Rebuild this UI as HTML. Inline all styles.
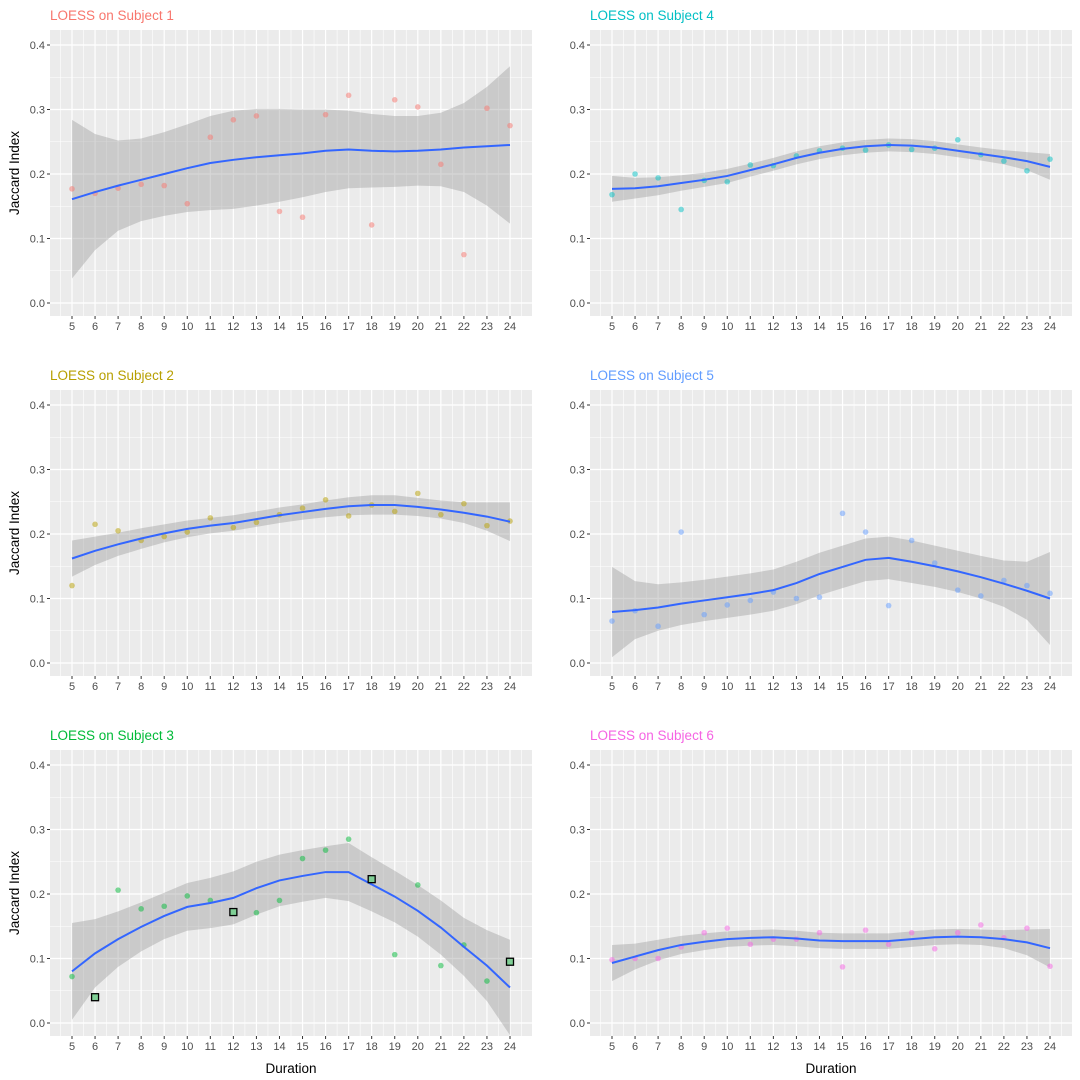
<!DOCTYPE html>
<html><head><meta charset="utf-8"><style>
body{margin:0;background:#fff}
svg{display:block;font-family:"Liberation Sans",Arial,sans-serif}
</style></head><body>
<svg id="c" width="1080" height="1080"></svg>
<script>
const durations=[5,6,7,8,9,10,11,12,13,14,15,16,17,18,19,20,21,22,23,24];
const yTicks=[0,0.1,0.2,0.3,0.4];
const yTickLabels=["0.0","0.1","0.2","0.3","0.4"];
const subjectNames=["LOESS on Subject 1","LOESS on Subject 2","LOESS on Subject 3","LOESS on Subject 4","LOESS on Subject 5","LOESS on Subject 6"];
const points1=[0.177,0.17,0.178,0.184,0.182,0.154,0.257,0.284,0.29,0.142,0.133,0.292,0.322,0.121,0.315,0.304,0.215,0.075,0.302,0.275];
const fit1=[0.161,0.172,0.182,0.191,0.2,0.209,0.217,0.222,0.226,0.229,0.232,0.236,0.238,0.236,0.235,0.236,0.238,0.241,0.243,0.245];
const se1=[0.123,0.09,0.07,0.064,0.065,0.068,0.073,0.076,0.075,0.072,0.068,0.064,0.06,0.057,0.055,0.054,0.057,0.069,0.092,0.122];
const points2=[0.12,0.215,0.205,0.19,0.196,0.203,0.225,0.21,0.218,0.23,0.24,0.253,0.228,0.245,0.235,0.263,0.23,0.247,0.213,0.22];
const fit2=[0.162,0.174,0.184,0.193,0.201,0.208,0.213,0.217,0.223,0.229,0.234,0.239,0.243,0.245,0.245,0.242,0.238,0.233,0.227,0.219];
const se2=[0.028,0.022,0.018,0.016,0.014,0.013,0.012,0.012,0.012,0.012,0.012,0.013,0.014,0.015,0.015,0.014,0.014,0.016,0.022,0.03];
const points3=[0.072,0.04,0.206,0.177,0.181,0.197,0.19,0.172,0.171,0.19,0.255,0.268,0.285,0.223,0.106,0.214,0.089,0.121,0.065,0.095];
const fit3=[0.08,0.108,0.13,0.149,0.166,0.18,0.186,0.194,0.209,0.221,0.228,0.234,0.234,0.215,0.196,0.174,0.148,0.118,0.089,0.055];
const se3=[0.075,0.053,0.043,0.038,0.036,0.037,0.039,0.041,0.041,0.04,0.04,0.04,0.045,0.042,0.04,0.04,0.042,0.045,0.055,0.074];
const highlighted3=[6,12,18,24];
const points4=[0.168,0.2,0.194,0.145,0.19,0.188,0.214,0.213,0.228,0.236,0.24,0.237,0.245,0.238,0.24,0.253,0.23,0.22,0.205,0.223];
const fit4=[0.177,0.178,0.181,0.186,0.191,0.197,0.206,0.215,0.225,0.233,0.239,0.243,0.245,0.244,0.241,0.236,0.231,0.226,0.22,0.211];
const se4=[0.02,0.016,0.014,0.012,0.011,0.011,0.01,0.01,0.01,0.01,0.01,0.01,0.01,0.01,0.01,0.01,0.01,0.011,0.014,0.02];
const points5=[0.065,0.081,0.057,0.203,0.075,0.09,0.097,0.11,0.1,0.102,0.232,0.203,0.089,0.19,0.155,0.113,0.104,0.128,0.12,0.108];
const fit5=[0.079,0.082,0.086,0.092,0.097,0.102,0.107,0.113,0.124,0.138,0.149,0.16,0.163,0.157,0.15,0.142,0.133,0.123,0.112,0.1];
const se5=[0.07,0.045,0.036,0.033,0.032,0.032,0.032,0.032,0.033,0.033,0.033,0.033,0.033,0.033,0.032,0.032,0.033,0.036,0.045,0.072];
const points6=[0.098,0.1,0.1,0.118,0.14,0.147,0.122,0.13,0.13,0.14,0.087,0.144,0.122,0.14,0.115,0.14,0.152,0.132,0.147,0.088];
const fit6=[0.093,0.103,0.113,0.121,0.126,0.13,0.132,0.133,0.131,0.128,0.127,0.127,0.127,0.13,0.133,0.134,0.133,0.13,0.125,0.116];
const se6=[0.028,0.02,0.016,0.014,0.013,0.012,0.012,0.012,0.012,0.012,0.012,0.012,0.012,0.012,0.012,0.012,0.012,0.014,0.02,0.03];

const colors=["#F8766D","#B79F00","#00BA38","#00BFC4","#619CFF","#F564E3"];
const allPoints=[points1,points2,points3,points4,points5,points6];
const allFit=[fit1,fit2,fit3,fit4,fit5,fit6];
const allSe=[se1,se2,se3,se4,se5,se6];
const NS="http://www.w3.org/2000/svg";
const svg=document.getElementById('c');
function mk(tag,attrs,parent){const e=document.createElementNS(NS,tag);for(const k in attrs)e.setAttribute(k,attrs[k]);(parent||svg).appendChild(e);return e;}

for(let p=0;p<6;p++){
  const col=p<3?0:1,row=p%3;
  const L=col?590:50,R=col?1072:532,T=30+row*360,B=316+row*360;
  const zeroY=303+row*360;
  const xs=d=>L+22+(d-5)*(438/19);
  const ys=v=>zeroY-v*645;
  const g=mk('g',{});
  
  
  const bg=mk('rect',{x:L,y:T,width:R-L,height:B-T,fill:'#EBEBEB'},g);
  
  
  // minor grid
  for(let i=0;i<yTicks.length;i++){const y=ys(yTicks[i]+0.05);if(y>T)mk('line',{x1:L,x2:R,y1:y,y2:y,stroke:'#fff','stroke-width':0.6},g);}
  mk('line',{x1:L,x2:R,y1:ys(-0.05),y2:ys(-0.05),stroke:'#fff','stroke-width':0.6},g);
  for(let i=0;i<durations.length;i++){const x=xs(durations[i]-0.5);mk('line',{x1:x,x2:x,y1:T,y2:B,stroke:'#fff','stroke-width':0.6},g);}
  mk('line',{x1:xs(24.5),x2:xs(24.5),y1:T,y2:B,stroke:'#fff','stroke-width':0.6},g);
  // major grid + ticks
  for(let i=0;i<yTicks.length;i++){const y=ys(yTicks[i]);
    mk('line',{x1:L,x2:R,y1:y,y2:y,stroke:'#fff','stroke-width':1.2},g);
    mk('line',{x1:L-3,x2:L,y1:y,y2:y,stroke:'#333','stroke-width':1},g);
    const t=mk('text',{x:L-5,y:y+4,'text-anchor':'end','font-size':11,fill:'#4D4D4D'},g);t.textContent=yTickLabels[i];
    
    }
  for(let i=0;i<durations.length;i++){const x=xs(durations[i]);
    mk('line',{x1:x,x2:x,y1:T,y2:B,stroke:'#fff','stroke-width':1.2},g);
    mk('line',{x1:x,x2:x,y1:B,y2:B+3,stroke:'#333','stroke-width':1},g);
    const t=mk('text',{x:x,y:B+14,'text-anchor':'middle','font-size':11,fill:'#4D4D4D'},g);t.textContent=durations[i];
    
    }
  const pts=allPoints[p],fit=allFit[p],se=allSe[p];
  // band
  let d='';
  for(let i=0;i<durations.length;i++)d+=(i?'L':'M')+xs(durations[i])+','+ys(fit[i]+se[i]);
  for(let i=durations.length-1;i>=0;i--)d+='L'+xs(durations[i])+','+ys(fit[i]-se[i]);
  const band=mk('path',{d:d+'Z',fill:'#999','fill-opacity':0.4},g);
  
  
  // points
  for(let i=0;i<durations.length;i++){
    const c=mk('circle',{cx:xs(durations[i]),cy:ys(pts[i]),r:2.8,fill:colors[p],'fill-opacity':0.5},g);
    
    }
  // line
  let ld='';
  for(let i=0;i<durations.length;i++)ld+=(i?'L':'M')+xs(durations[i])+','+ys(fit[i]);
  const line=mk('path',{d:ld,fill:'none',stroke:'#3366FF','stroke-width':2},g);
  
  
  if(p===2){
    for(const hd of highlighted3){const i=durations.indexOf(hd);
      const s=mk('rect',{x:xs(hd)-3.5,y:ys(pts[i])-3.5,width:7,height:7,fill:'#7fcf95',stroke:'#000','stroke-width':1.3},g);
      
      }
  }
  const tt=mk('text',{x:L,y:T-10,'font-size':13.5,fill:colors[p]},g);tt.textContent=subjectNames[p];
  
  
  if(col===0){const yt=mk('text',{x:0,y:0,'font-size':13.5,fill:'#000','text-anchor':'middle',transform:'translate(19,'+((T+B)/2)+') rotate(-90)'},g);yt.textContent='Jaccard Index';
    
    }
  if(row===2){const xt=mk('text',{x:(L+R)/2,y:1073,'font-size':13.5,fill:'#000','text-anchor':'middle'},g);xt.textContent='Duration';
    
    }
}
</script>
</body></html>
